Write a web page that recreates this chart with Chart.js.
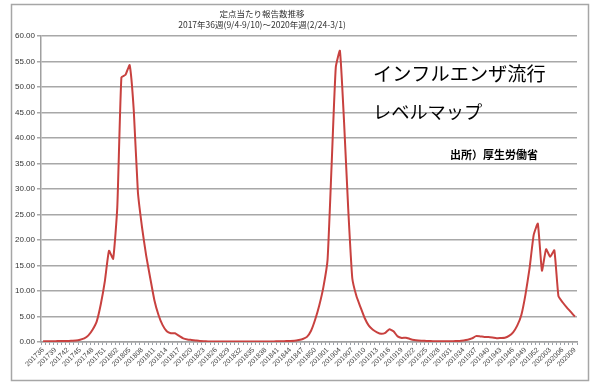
<!DOCTYPE html>
<html>
<head>
<meta charset="utf-8">
<script src="https://cdn.jsdelivr.net/npm/chart.js@4"></script>
<style>
	html, body { margin: 0; padding: 0; background: #fff; }
	#wrap { position: relative; width: 600px; height: 389px; }
</style>
</head>
<body>
<div id="wrap"><canvas id="fluChart"></canvas></div>
<script>
// 週ごとの定点当たり報告数 (2017年36週 ～ 2020年9週)
const weeks2017 = [36, 52]
const weeks2018 = [1, 52]
const weeks2019 = [1, 52]
const weeks2020 = [1, 9]

const values2017 = [0.15, 0.15, 0.15, 0.15, 0.2, 0.2, 0.2, 0.25, 0.3, 0.45, 0.7, 1.3, 2.4, 4.0, 7.4, 12.0, 17.9]
const values2018 = [
	16.3, 26.4, 51.9, 52.4, 54.3, 45.4, 29.4, 22.5, 17.0, 12.5,
	8.2, 5.3, 3.3, 2.1, 1.7, 1.7, 1.2, 0.7, 0.5, 0.4,
	0.3, 0.2, 0.15, 0.12, 0.1, 0.1, 0.1, 0.08, 0.08, 0.08,
	0.08, 0.08, 0.08, 0.1, 0.1, 0.1, 0.1, 0.1, 0.12, 0.12,
	0.15, 0.15, 0.18, 0.2, 0.25, 0.4, 0.6, 1.0, 2.2, 4.4,
	7.2, 10.8,
]
const values2019 = [
	16.1, 35.0, 53.9, 57.1, 43.2, 26.3, 12.5, 9.0, 6.8, 4.7,
	3.2, 2.4, 1.9, 1.6, 1.8, 2.5, 2.1, 1.1, 0.8, 0.85,
	0.6, 0.4, 0.3, 0.25, 0.2, 0.18, 0.15, 0.15, 0.15, 0.15,
	0.15, 0.18, 0.2, 0.3, 0.45, 0.7, 1.15, 1.1, 1.0, 1.0,
	0.9, 0.75, 0.8, 0.85, 1.2, 1.9, 3.2, 5.3, 9.3, 14.5,
	21.0, 23.2,
]
const values2020 = [14.0, 18.2, 16.7, 18.0, 9.0, 7.8, 6.8, 5.9, 4.96]

const yTicks = [0, 5, 10, 15, 20, 25, 30, 35, 40, 45, 50, 55, 60]

const titleLines = ['定点当たり報告数推移', '2017年36週(9/4-9/10)～2020年週(2/24-3/1)']
const noteLines = ['インフルエンザ流行', 'レベルマップ']
const sourceText = '出所）厚生労働省'

function weekLabels(year, range) {
	var out = []
	for (var w = range[0]; w <= range[1]; w++) {
		out.push(year + (w < 10 ? '0' : '') + w)
	}
	return out
}

const categories = [].concat(
	weekLabels(2017, weeks2017),
	weekLabels(2018, weeks2018),
	weekLabels(2019, weeks2019),
	weekLabels(2020, weeks2020)
)
const values = [].concat(values2017, values2018, values2019, values2020)

const framePlugin = {
	id: 'framePlugin',
	afterDraw(chart) {
		const c = chart.ctx
		c.save()
		// 外枠
		c.strokeStyle = '#a6a6a6'
		c.lineWidth = 1.5
		c.strokeRect(11.5, 4.5, 577, 376)

		// タイトル
		c.fillStyle = '#333'
		c.textAlign = 'center'
		c.textBaseline = 'middle'
		c.font = '8.5px "Noto Sans CJK JP"'
		c.fillText(titleLines[0], 262, 14)
		c.fillText(titleLines[1], 262, 25)

		// 注記
		c.fillStyle = '#000'
		c.textAlign = 'left'
		c.font = '19.2px "Noto Sans CJK JP"'
		c.fillText(noteLines[0], 373, 74)
		c.font = '18.2px "Noto Sans CJK JP"'
		c.fillText(noteLines[1], 373, 112)
		c.font = 'bold 11px "Noto Sans CJK JP"'
		c.fillText(sourceText, 450, 155)
		c.restore()
	},
}

const ctx = document.getElementById('fluChart')

new Chart(ctx, {
	type: 'line',
	data: {
		labels: categories,
		datasets: [
			{
				label: '定点当たり報告数',
				data: values,
				borderColor: '#c8413f',
				borderWidth: 2,
				pointRadius: 0,
				tension: 0.15,
				fill: false,
			},
		],
	},
	options: {
		responsive: true,
		maintainAspectRatio: false,
		animation: false,
		layout: {
			padding: { left: 12, right: 23, top: 36, bottom: 9 },
		},
		scales: {
			x: {
				offset: true,
				afterFit: function (scale) {
					scale.height = 38
				},
				grid: {
					offset: true,
					drawOnChartArea: false,
					drawTicks: true,
					tickLength: 3,
					color: '#9aa0a8',
				},
				border: { display: true, color: '#a0a0a0', width: 1.5 },
				ticks: {
					autoSkip: false,
					minRotation: 45,
					maxRotation: 45,
					padding: 1,
					color: '#444',
					font: { family: 'Liberation Sans', size: 7 },
					callback: function (val, i) {
						return i % 3 === 0 ? categories[i] : ''
					},
				},
			},
			y: {
				min: yTicks[0],
				max: yTicks[yTicks.length - 1],
				afterFit: function (scale) {
					scale.width = 29
				},
				afterBuildTicks: function (scale) {
					scale.ticks = yTicks.map((v) => ({ value: v }))
				},
				grid: {
					color: '#a8a8a8',
					lineWidth: 1.5,
					tickLength: 4,
				},
				border: { display: true, color: '#a0a0a0', width: 1.5 },
				ticks: {
					padding: 2,
					color: '#333',
					font: { family: 'Liberation Sans', size: 8 },
					callback: function (v) {
						return v.toFixed(2)
					},
				},
			},
		},
		plugins: {
			legend: { display: false },
			tooltip: { enabled: false },
			title: { display: false },
		},
	},
	plugins: [framePlugin],
})
</script>
</body>
</html>
